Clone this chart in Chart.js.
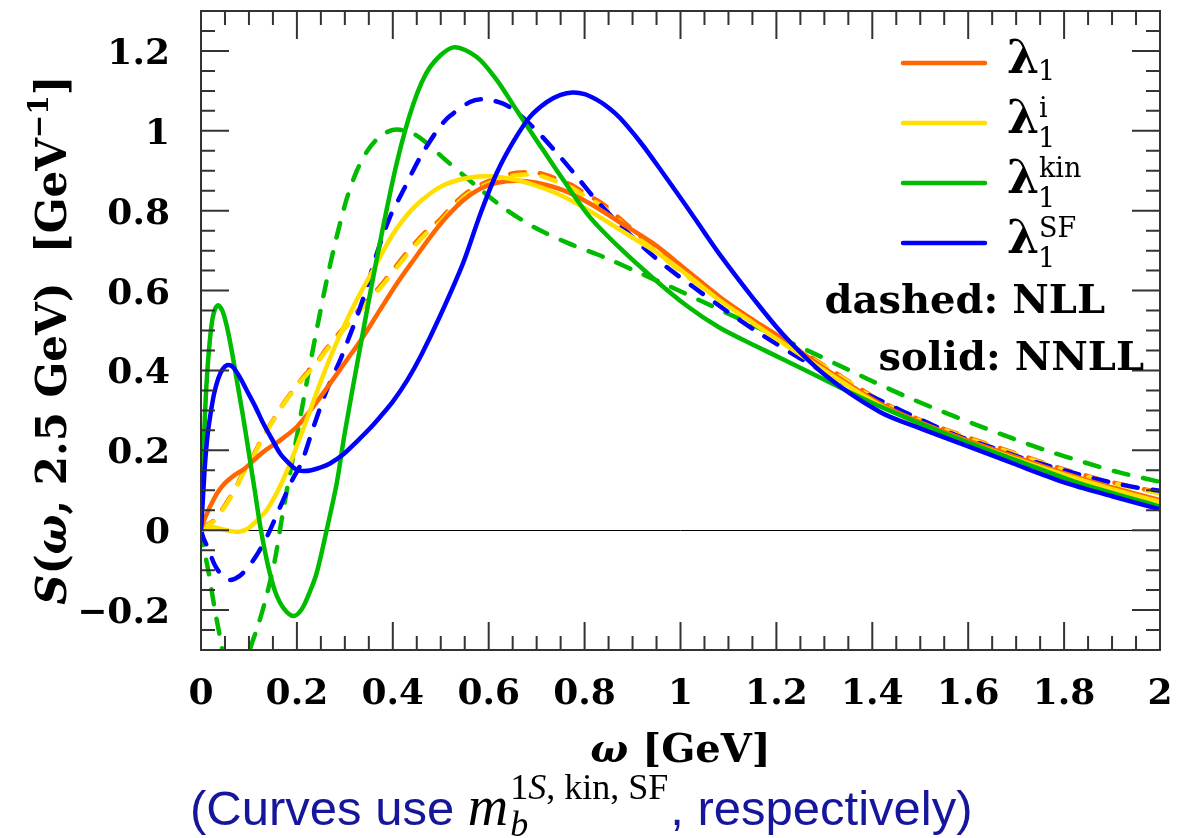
<!DOCTYPE html>
<html>
<head>
<meta charset="utf-8">
<script src="https://cdn.jsdelivr.net/npm/chart.js@4.4.1/dist/chart.umd.min.js"></script>
<style>
html,body{margin:0;padding:0;background:#ffffff;}
#wrap{position:relative;width:1186px;height:838px;}
canvas{position:absolute;left:0;top:0;}
</style>
</head>
<body>
<div id="wrap"><canvas id="c" width="1186" height="838"></canvas></div>
<script>
// ---------------- data ----------------
const xTickValues = [0, 0.2, 0.4, 0.6, 0.8, 1, 1.2, 1.4, 1.6, 1.8, 2];
const xTickLabels = ['0', '0.2', '0.4', '0.6', '0.8', '1', '1.2', '1.4', '1.6', '1.8', '2'];
const yTickValues = [-0.2, 0, 0.2, 0.4, 0.6, 0.8, 1, 1.2];
const yTickLabels = ['\u22120.2', '0', '0.2', '0.4', '0.6', '0.8', '1', '1.2'];

// lambda_1 (orange), NNLL solid
const wOrangeSolid = [0, 0.005, 0.01, 0.02, 0.035, 0.05, 0.07, 0.09, 0.11, 0.13, 0.165, 0.2, 0.234, 0.269, 0.304, 0.338, 0.373, 0.41, 0.443, 0.478, 0.512, 0.547, 0.582, 0.617, 0.658, 0.70, 0.756, 0.811, 0.867, 0.943, 1.013, 1.082, 1.152, 1.207, 1.3, 1.416, 1.5, 1.6, 1.7, 1.8, 1.9, 2.0];
const sOrangeSolid = [0, 0.02, 0.035, 0.062, 0.095, 0.118, 0.138, 0.153, 0.175, 0.196, 0.225, 0.259, 0.309, 0.367, 0.426, 0.484, 0.551, 0.62, 0.676, 0.734, 0.784, 0.826, 0.855, 0.870, 0.875, 0.870, 0.851, 0.818, 0.776, 0.718, 0.651, 0.584, 0.526, 0.484, 0.405, 0.317, 0.27, 0.224, 0.183, 0.143, 0.107, 0.075];
// lambda_1 (orange), NLL dashed
const wOrangeDashed = [0, 0.008, 0.029, 0.054, 0.074, 0.088, 0.109, 0.13, 0.151, 0.165, 0.193, 0.213, 0.241, 0.262, 0.297, 0.332, 0.373, 0.43, 0.47, 0.498, 0.526, 0.554, 0.582, 0.617, 0.658, 0.70, 0.735, 0.77, 0.804, 0.839, 0.867, 0.895, 1.0, 1.1, 1.2, 1.3, 1.416, 1.5, 1.6, 1.7, 1.8, 1.9, 2.0];
const sOrangeDashed = [0, 0.009, 0.027, 0.07, 0.11, 0.145, 0.187, 0.236, 0.277, 0.305, 0.352, 0.383, 0.42, 0.455, 0.506, 0.556, 0.61, 0.696, 0.749, 0.777, 0.815, 0.845, 0.865, 0.882, 0.895, 0.895, 0.883, 0.866, 0.841, 0.816, 0.787, 0.758, 0.652, 0.565, 0.486, 0.412, 0.324, 0.276, 0.232, 0.192, 0.152, 0.12, 0.094];

// lambda_1^i (yellow), NNLL solid
const wYellowSolid = [0, 0.02, 0.04, 0.06, 0.08, 0.1, 0.12, 0.137, 0.165, 0.19, 0.22, 0.248, 0.276, 0.304, 0.332, 0.359, 0.385, 0.408, 0.443, 0.478, 0.512, 0.561, 0.603, 0.644, 0.686, 0.742, 0.797, 0.853, 0.909, 0.957, 1.013, 1.082, 1.152, 1.194, 1.3, 1.416, 1.5, 1.6, 1.7, 1.8, 1.9, 2.0];
const sYellowSolid = [0, 0.008, 0.004, -0.002, -0.004, 0.006, 0.028, 0.05, 0.11, 0.18, 0.275, 0.367, 0.451, 0.526, 0.593, 0.651, 0.71, 0.755, 0.807, 0.843, 0.867, 0.883, 0.886, 0.880, 0.868, 0.843, 0.809, 0.768, 0.726, 0.69, 0.64, 0.575, 0.518, 0.484, 0.40, 0.313, 0.266, 0.219, 0.178, 0.139, 0.103, 0.071];
// lambda_1^i (yellow), NLL dashed
const wYellowDashed = [0, 0.008, 0.029, 0.054, 0.074, 0.088, 0.109, 0.13, 0.151, 0.165, 0.193, 0.213, 0.241, 0.262, 0.297, 0.332, 0.373, 0.43, 0.47, 0.498, 0.526, 0.554, 0.582, 0.617, 0.658, 0.70, 0.735, 0.77, 0.804, 0.839, 0.867, 0.895, 1.0, 1.1, 1.2, 1.3, 1.416, 1.5, 1.6, 1.7, 1.8, 1.9, 2.0];
const sYellowDashed = [0, 0.008, 0.025, 0.067, 0.108, 0.142, 0.184, 0.234, 0.275, 0.303, 0.35, 0.38, 0.417, 0.451, 0.501, 0.551, 0.605, 0.69, 0.743, 0.771, 0.809, 0.839, 0.859, 0.876, 0.889, 0.889, 0.876, 0.859, 0.834, 0.809, 0.78, 0.752, 0.648, 0.562, 0.483, 0.41, 0.322, 0.274, 0.23, 0.19, 0.15, 0.118, 0.092];

// lambda_1^kin (green), NNLL solid
const wGreenSolid = [0, 0.004, 0.008, 0.012, 0.018, 0.024, 0.03, 0.036, 0.045, 0.054, 0.064, 0.074, 0.087, 0.099, 0.112, 0.125, 0.14, 0.155, 0.172, 0.193, 0.21, 0.225, 0.241, 0.262, 0.283, 0.3, 0.33, 0.366, 0.408, 0.443, 0.478, 0.526, 0.575, 0.617, 0.658, 0.70, 0.756, 0.811, 0.874, 0.943, 1.013, 1.08, 1.145, 1.207, 1.318, 1.416, 1.555, 1.694, 1.833, 2.0];
const sGreenSolid = [0, 0.15, 0.28, 0.376, 0.47, 0.53, 0.556, 0.563, 0.548, 0.51, 0.45, 0.38, 0.29, 0.20, 0.10, 0.0, -0.09, -0.155, -0.195, -0.215, -0.198, -0.16, -0.108, 0.0, 0.117, 0.245, 0.445, 0.676, 0.918, 1.068, 1.16, 1.209, 1.185, 1.127, 1.052, 0.976, 0.876, 0.784, 0.706, 0.631, 0.562, 0.508, 0.468, 0.432, 0.366, 0.31, 0.24, 0.178, 0.117, 0.059];
// lambda_1^kin (green), NLL dashed
const wGreenDashed = [0, 0.005, 0.015, 0.029, 0.043, 0.055, 0.072, 0.088, 0.102, 0.12, 0.137, 0.154, 0.166, 0.179, 0.196, 0.22, 0.241, 0.262, 0.283, 0.304, 0.325, 0.346, 0.366, 0.39, 0.41, 0.436, 0.464, 0.509, 0.568, 0.628, 0.694, 0.767, 0.84, 0.9, 0.98, 1.05, 1.13, 1.265, 1.33, 1.40, 1.472, 1.548, 1.621, 1.694, 1.767, 1.842, 1.917, 2.0];
const sGreenDashed = [0, -0.04, -0.10, -0.20, -0.29, -0.38, -0.44, -0.40, -0.30, -0.235, -0.163, -0.075, 0.01, 0.1, 0.209, 0.367, 0.50, 0.625, 0.735, 0.83, 0.90, 0.948, 0.978, 0.998, 1.003, 0.997, 0.976, 0.928, 0.868, 0.81, 0.759, 0.718, 0.684, 0.652, 0.609, 0.57, 0.525, 0.45, 0.413, 0.373, 0.334, 0.296, 0.262, 0.229, 0.198, 0.17, 0.144, 0.121];

// lambda_1^SF (blue), NNLL solid
const wBlueSolid = [0, 0.004, 0.008, 0.013, 0.019, 0.027, 0.036, 0.045, 0.054, 0.065, 0.08, 0.095, 0.113, 0.13, 0.148, 0.165, 0.183, 0.2, 0.213, 0.23, 0.25, 0.269, 0.297, 0.325, 0.35, 0.373, 0.40, 0.43, 0.46, 0.50, 0.547, 0.582, 0.617, 0.652, 0.686, 0.721, 0.75, 0.775, 0.80, 0.825, 0.85, 0.874, 0.916, 0.957, 1.013, 1.05, 1.082, 1.152, 1.214, 1.3, 1.416, 1.5, 1.6, 1.694, 1.8, 1.9, 2.0];
const sBlueSolid = [0, 0.08, 0.16, 0.23, 0.284, 0.34, 0.38, 0.403, 0.413, 0.41, 0.385, 0.351, 0.31, 0.267, 0.228, 0.192, 0.168, 0.151, 0.148, 0.150, 0.157, 0.167, 0.19, 0.222, 0.252, 0.283, 0.322, 0.375, 0.44, 0.54, 0.67, 0.79, 0.895, 0.974, 1.035, 1.072, 1.09, 1.096, 1.092, 1.078, 1.058, 1.032, 0.972, 0.905, 0.81, 0.745, 0.69, 0.58, 0.49, 0.39, 0.296, 0.255, 0.21, 0.167, 0.12, 0.085, 0.052];
// lambda_1^SF (blue), NLL dashed
const wBlueDashed = [0, 0.005, 0.015, 0.029, 0.045, 0.06, 0.08, 0.1, 0.12, 0.14, 0.165, 0.19, 0.21, 0.235, 0.262, 0.29, 0.304, 0.325, 0.346, 0.366, 0.394, 0.422, 0.443, 0.464, 0.498, 0.519, 0.561, 0.59, 0.63, 0.658, 0.70, 0.749, 0.79, 0.818, 0.867, 0.922, 0.971, 1.027, 1.103, 1.166, 1.25, 1.33, 1.416, 1.506, 1.583, 1.65, 1.725, 1.8, 1.878, 1.955, 2.0];
const sBlueDashed = [0, -0.02, -0.046, -0.088, -0.115, -0.125, -0.115, -0.09, -0.055, -0.01, 0.058, 0.125, 0.17, 0.26, 0.35, 0.425, 0.468, 0.534, 0.609, 0.69, 0.784, 0.851, 0.902, 0.948, 1.01, 1.037, 1.072, 1.079, 1.068, 1.047, 1.0, 0.935, 0.876, 0.835, 0.772, 0.709, 0.659, 0.609, 0.543, 0.492, 0.43, 0.375, 0.325, 0.274, 0.234, 0.207, 0.176, 0.150, 0.125, 0.106, 0.099];

// ---------------- styling ----------------
const ORANGE = '#ff6600', YELLOW = '#ffdf00', GREEN = '#00bb00', BLUE = '#0000ff';
const SERIF = '"DejaVu Serif"';
const DASH = [15, 15];

function pts(xs, ys) { return xs.map((x, i) => ({ x: x, y: ys[i] })); }
function ds(xs, ys, color, dashed) {
  return {
    data: pts(xs, ys), borderColor: color, backgroundColor: color,
    borderWidth: 4.5, borderDash: dashed ? DASH : [], borderCapStyle: dashed ? 'round' : 'butt',
    borderJoinStyle: 'round', pointRadius: 0, fill: false, tension: 0.3
  };
}

function richWidth(ctx, segs) {
  let w = 0;
  for (const s of segs) { ctx.font = s.f; w += ctx.measureText(s.t).width + (s.dx || 0); }
  return w;
}
function drawRich(ctx, segs, x, y, align) {
  const w = richWidth(ctx, segs);
  let cx = align === 'center' ? x - w / 2 : (align === 'right' ? x - w : x);
  ctx.textAlign = 'left';
  for (const s of segs) {
    ctx.font = s.f;
    ctx.fillStyle = s.c || '#000';
    ctx.fillText(s.t, cx, y + (s.dy || 0));
    cx += ctx.measureText(s.t).width + (s.dx || 0);
  }
}

const framePlugin = {
  id: 'framePlugin',
  beforeDatasetsDraw(chart) {
    const ctx = chart.ctx, a = chart.chartArea, ys = chart.scales.y;
    ctx.save();
    ctx.strokeStyle = '#000';
    ctx.lineWidth = 1;
    const y0 = Math.round(ys.getPixelForValue(0)) + 0.5;
    ctx.beginPath(); ctx.moveTo(a.left, y0); ctx.lineTo(a.right, y0); ctx.stroke();
    ctx.restore();
  },
  afterDatasetsDraw(chart) {
    const ctx = chart.ctx, a = chart.chartArea, xs = chart.scales.x, ys = chart.scales.y;
    ctx.save();
    // frame
    ctx.strokeStyle = '#333';
    ctx.lineWidth = 2;
    ctx.strokeRect(a.left, a.top, a.right - a.left, a.bottom - a.top);
    // ticks (inward, all four sides)
    ctx.beginPath();
    for (let i = 0; i <= 40; i++) {
      const px = xs.getPixelForValue(i * 0.05);
      const L = (i % 4 === 0) ? 28 : 14;
      ctx.moveTo(px, a.bottom); ctx.lineTo(px, a.bottom - L);
      ctx.moveTo(px, a.top); ctx.lineTo(px, a.top + L);
    }
    for (let i = -6; i <= 26; i++) {
      const py = ys.getPixelForValue(i * 0.05);
      const L = (i % 4 === 0) ? 28 : 14;
      ctx.moveTo(a.left, py); ctx.lineTo(a.left + L, py);
      ctx.moveTo(a.right, py); ctx.lineTo(a.right - L, py);
    }
    ctx.stroke();

    // tick labels
    ctx.fillStyle = '#000';
    ctx.font = 'bold 36px ' + SERIF;
    ctx.textBaseline = 'alphabetic';
    ctx.textAlign = 'center';
    xTickValues.forEach((v, i) => ctx.fillText(xTickLabels[i], xs.getPixelForValue(v), 704));
    ctx.textAlign = 'right';
    yTickValues.forEach((v, i) => ctx.fillText(yTickLabels[i], 170, ys.getPixelForValue(v) + 13));

    // x title
    drawRich(ctx, [
      { t: '\u03C9', f: 'italic bold 40px ' + SERIF },
      { t: ' [GeV]', f: 'bold 40px ' + SERIF }
    ], (a.left + a.right) / 2, 762, 'center');

    // y title (rotated)
    ctx.save();
    ctx.translate(66, 340);
    ctx.rotate(-Math.PI / 2);
    drawRich(ctx, [
      { t: 'S', f: 'italic bold 42px ' + SERIF },
      { t: '(', f: 'bold 42px ' + SERIF },
      { t: '\u03C9', f: 'italic bold 42px ' + SERIF },
      { t: ', 2.5 GeV)  [GeV', f: 'bold 42px ' + SERIF },
      { t: '\u22121', f: 'bold 28px ' + SERIF, dy: -18 },
      { t: ']', f: 'bold 42px ' + SERIF }
    ], 0, 0, 'center');
    ctx.restore();

    // legend
    const legend = [
      { c: ORANGE, sup: '' },
      { c: YELLOW, sup: 'i' },
      { c: GREEN, sup: 'kin' },
      { c: BLUE, sup: 'SF' }
    ];
    legend.forEach((it, r) => {
      const ly = 63 + 60 * r;
      ctx.strokeStyle = it.c; ctx.lineWidth = 4.5; ctx.lineCap = 'round';
      ctx.beginPath(); ctx.moveTo(903, ly); ctx.lineTo(985, ly); ctx.stroke();
      ctx.fillStyle = '#000'; ctx.textAlign = 'left';
      ctx.font = 'bold 46px ' + SERIF;
      ctx.fillText('\u03BB', 1007, ly + 10);
      ctx.font = '27px ' + SERIF;
      ctx.fillText('1', 1038, ly + (it.sup ? 24 : 17));
      if (it.sup) { ctx.font = '27px ' + SERIF; ctx.fillText(it.sup, 1039, ly - 6); }
    });

    // annotations
    ctx.fillStyle = '#000';
    ctx.font = 'bold 40px ' + SERIF;
    ctx.textAlign = 'right';
    ctx.fillText('dashed: NLL', 1105, 313);
    ctx.fillText('solid: NNLL', 1144, 370);

    // caption
    const NAVY = '#16169a';
    const capSegs1 = [{ t: '(Curves use ', f: '49px "Liberation Sans"', c: NAVY }];
    const mSeg = [{ t: 'm', f: 'italic 56px "Liberation Serif"', c: '#000' }];
    let cx = 190;
    const base = 825;
    drawRich(ctx, capSegs1, cx, base, 'left'); cx += richWidth(ctx, capSegs1);
    drawRich(ctx, mSeg, cx, base, 'left'); cx += richWidth(ctx, mSeg) + 2;
    const sup = [{ t: '1', f: '36px "Liberation Serif"', c: '#000' }, { t: 'S', f: 'italic 36px "Liberation Serif"', c: '#000' }, { t: ', kin, SF', f: '36px "Liberation Serif"', c: '#000' }];
    const sub = [{ t: 'b', f: 'italic 36px "Liberation Serif"', c: '#000' }];
    drawRich(ctx, sup, cx, base - 26, 'left');
    drawRich(ctx, sub, cx, base + 11, 'left');
    cx += Math.max(richWidth(ctx, sup), richWidth(ctx, sub)) + 2;
    drawRich(ctx, [{ t: ', respectively)', f: '49px "Liberation Sans"', c: NAVY }], cx, base, 'left');
    ctx.restore();
  }
};

new Chart(document.getElementById('c'), {
  type: 'line',
  data: {
    datasets: [
      ds(wBlueSolid, sBlueSolid, BLUE, false),
      ds(wGreenSolid, sGreenSolid, GREEN, false),
      ds(wYellowSolid, sYellowSolid, YELLOW, false),
      ds(wOrangeSolid, sOrangeSolid, ORANGE, false),
      ds(wBlueDashed, sBlueDashed, BLUE, true),
      ds(wYellowDashed, sYellowDashed, YELLOW, true),
      ds(wOrangeDashed, sOrangeDashed, ORANGE, true),
      ds(wGreenDashed, sGreenDashed, GREEN, true)
    ]
  },
  options: {
    responsive: false, animation: false, devicePixelRatio: 1,
    layout: { padding: { left: 201, right: 26, top: 11, bottom: 188 } },
    plugins: { legend: { display: false }, tooltip: { enabled: false } },
    scales: {
      x: { type: 'linear', min: 0, max: 2, grid: { display: false, drawTicks: false }, border: { display: false }, ticks: { display: false }, afterFit(s) { s.height = 0; } },
      y: { type: 'linear', min: -0.3, max: 1.3, grid: { display: false, drawTicks: false }, border: { display: false }, ticks: { display: false }, afterFit(s) { s.width = 0; } }
    }
  },
  plugins: [framePlugin]
});
</script>
</body>
</html>
